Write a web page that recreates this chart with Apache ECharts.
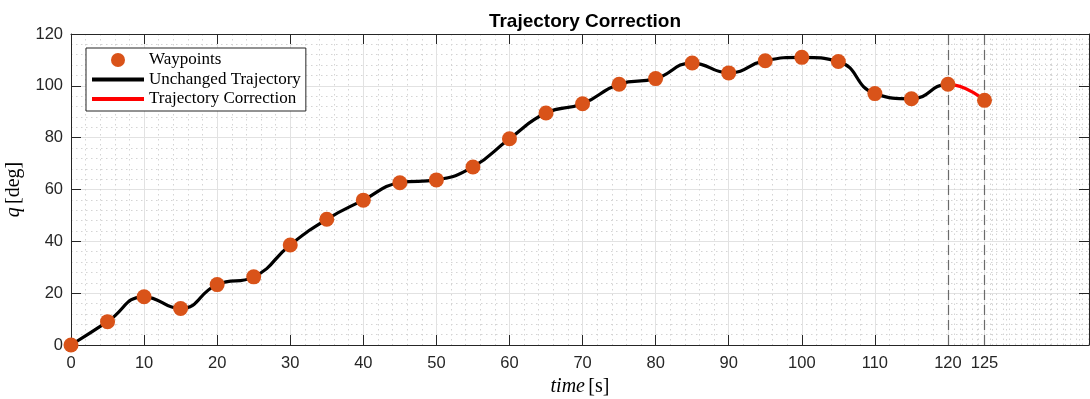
<!DOCTYPE html>
<html>
<head>
<meta charset="utf-8">
<script src="https://cdn.jsdelivr.net/npm/echarts@6/dist/echarts.min.js"></script>
<style>
  html, body { margin: 0; padding: 0; background: #ffffff; }
  #chart { width: 1090px; height: 399px; }
</style>
</head>
<body>
<div id="chart"></div>
<script>
// Waypoints of the joint trajectory: time [s] and joint angle q [deg]
const waypointTimes = [0, 5, 10, 15, 20, 25, 30, 35, 40, 45, 50, 55, 60, 65,
                       70, 75, 80, 85, 90, 95, 100, 105, 110, 115, 120, 125];
const waypointAngles = [0, 9.0, 18.6, 14.1, 23.3, 26.3, 38.6, 48.5, 55.9, 62.6,
                        63.7, 68.7, 79.6, 89.5, 93.1, 100.6, 102.8, 108.8, 105.0,
                        109.7, 111.0, 109.4, 97.0, 95.0, 100.6, 94.4];

// Window in which the trajectory is corrected
const correctionStart = 120;
const correctionEnd = 125;

// Axis ticks
const timeTicks = [0, 10, 20, 30, 40, 50, 60, 70, 80, 90, 100, 110, 120, 125];
const timeMax = 139.3;
const angleMin = 0;
const angleMax = 120;
const angleStep = 20;

// Finer minor grid used after the correction start
const fineGridStep = 5 / 6;
const fineGrid = [];
for (let t = correctionStart + fineGridStep; t < timeMax; t += fineGridStep) fineGrid.push(t);

const waypoints = waypointTimes.map((t, i) => [t, waypointAngles[i]]);

const axisColor = '#262626';
const majorGrid = { show: true, lineStyle: { color: '#e2e2e2', width: 1 } };
const minorLine = { color: '#d4d4d4', width: 1, type: [1.5, 3.5] };
const tickFont = { color: axisColor, fontFamily: 'Liberation Sans, Arial, sans-serif', fontSize: 16.5 };
const serif = 'Liberation Serif, Times New Roman, serif';

const chart = echarts.init(document.getElementById('chart'), null, { renderer: 'canvas' });

chart.setOption({
  animation: false,
  backgroundColor: '#ffffff',
  title: {
    text: 'Trajectory Correction',
    left: 580,
    textAlign: 'center',
    top: 7,
    textStyle: { fontFamily: 'Liberation Sans, Arial, sans-serif', fontWeight: 'bold', fontSize: 19, color: '#000' }
  },
  grid: { left: 71, right: 1, top: 34, bottom: 54, containLabel: false, outerBoundsMode: 'none' },
  legend: {
    orient: 'vertical',
    left: 86,
    top: 48,
    padding: [3.5, 5, 3.5, 6],
    itemGap: 2.5,
    itemWidth: 52,
    itemHeight: 14,
    backgroundColor: '#ffffff',
    borderColor: axisColor,
    borderWidth: 1,
    borderRadius: 0,
    selectedMode: false,
    z: 10,
    textStyle: { fontFamily: serif, fontSize: 17, color: '#000' },
    data: [
      { name: 'Waypoints', icon: 'circle' },
      { name: 'Unchanged Trajectory', icon: 'path://M0,0L52,0L52,4L0,4Z', itemStyle: { color: '#000000' } },
      { name: 'Trajectory Correction', icon: 'path://M0,0L52,0L52,4L0,4Z', itemStyle: { color: '#ff0000' } }
    ]
  },
  visualMap: {
    type: 'piecewise',
    show: false,
    dimension: 0,
    seriesIndex: 0,
    pieces: [
      { gte: 0, lt: correctionStart, color: '#000000' },
      { gte: correctionStart, lte: timeMax, color: '#ff0000' }
    ]
  },
  xAxis: [
    {
      // minor grid layer
      type: 'value',
      position: 'bottom',
      min: 0,
      max: timeMax,
      interval: 10,
      axisLine: { show: false },
      axisTick: { show: false },
      axisLabel: { show: false },
      splitLine: { show: false },
      minorTick: { show: false, splitNumber: 5 },
      minorSplitLine: { show: true, lineStyle: minorLine }
    },
    {
      type: 'value',
      position: 'bottom',
      min: 0,
      max: timeMax,
      interval: 10,
      name: '{it|time} {rm|[s]}',
      nameLocation: 'middle',
      nameGap: 30,
      nameTextStyle: {
        rich: {
          it: { fontFamily: serif, fontStyle: 'italic', fontSize: 20, color: '#000' },
          rm: { fontFamily: serif, fontSize: 20, color: '#000' }
        }
      },
      axisLine: { show: true, onZero: false, lineStyle: { color: axisColor, width: 1 } },
      axisTick: { show: true, inside: true, length: 10, customValues: timeTicks, lineStyle: { color: axisColor } },
      axisLabel: { show: true, margin: 10, customValues: timeTicks, ...tickFont },
      splitLine: majorGrid
    },
    {
      type: 'value',
      position: 'top',
      min: 0,
      max: timeMax,
      interval: 10,
      axisLine: { show: true, onZero: false, lineStyle: { color: axisColor, width: 1 } },
      axisTick: { show: true, inside: true, length: 10, customValues: timeTicks, lineStyle: { color: axisColor } },
      axisLabel: { show: false },
      splitLine: { show: false }
    }
  ],
  yAxis: [
    {
      type: 'value',
      position: 'left',
      min: angleMin,
      max: angleMax,
      interval: angleStep,
      name: '{it|q} {rm|[deg]}',
      nameLocation: 'middle',
      nameRotate: 90,
      nameGap: 47,
      nameTextStyle: {
        rich: {
          it: { fontFamily: serif, fontStyle: 'italic', fontSize: 20, color: '#000' },
          rm: { fontFamily: serif, fontSize: 20, color: '#000' }
        }
      },
      axisLine: { show: true, onZero: false, lineStyle: { color: axisColor, width: 1 } },
      axisTick: { show: true, inside: true, length: 10, lineStyle: { color: axisColor } },
      axisLabel: { show: true, margin: 8, ...tickFont },
      splitLine: majorGrid,
      minorTick: { show: false, splitNumber: 5 },
      minorSplitLine: { show: true, lineStyle: minorLine }
    },
    {
      type: 'value',
      position: 'right',
      min: angleMin,
      max: angleMax,
      interval: angleStep,
      axisLine: { show: true, onZero: false, lineStyle: { color: axisColor, width: 1 } },
      axisTick: { show: true, inside: true, length: 10, lineStyle: { color: axisColor } },
      axisLabel: { show: false },
      splitLine: { show: false }
    }
  ],
  series: [
    {
      name: 'Unchanged Trajectory',
      type: 'line',
      xAxisIndex: 1,
      yAxisIndex: 0,
      data: waypoints,
      smooth: 0.5,
      showSymbol: false,
      symbol: 'none',
      z: 3,
      color: '#000000',
      lineStyle: { width: 3.2 }
    },
    {
      name: 'Trajectory Correction',
      type: 'line',
      xAxisIndex: 1,
      yAxisIndex: 0,
      data: [],
      symbol: 'none',
      z: 1,
      color: '#ff0000',
      lineStyle: { width: 3.2, color: '#ff0000' },
      markLine: {
        silent: true,
        symbol: 'none',
        animation: false,
        z: 2,
        label: { show: false },
        lineStyle: { color: '#6a6a6a', width: 1.2, type: [10, 5] },
        data: [{ xAxis: correctionStart }, { xAxis: correctionEnd }]
      }
    },
    {
      // fine minor grid after the correction start
      type: 'line',
      xAxisIndex: 1,
      yAxisIndex: 0,
      data: [],
      z: 0,
      markLine: {
        silent: true,
        symbol: 'none',
        animation: false,
        z: 0,
        label: { show: false },
        lineStyle: minorLine,
        data: fineGrid.map(t => ({ xAxis: t }))
      }
    },
    {
      name: 'Waypoints',
      type: 'scatter',
      xAxisIndex: 1,
      yAxisIndex: 0,
      data: waypoints,
      symbol: 'circle',
      symbolSize: 15,
      z: 4,
      itemStyle: { color: '#d95319', opacity: 1 }
    }
  ]
});
</script>
</body>
</html>
